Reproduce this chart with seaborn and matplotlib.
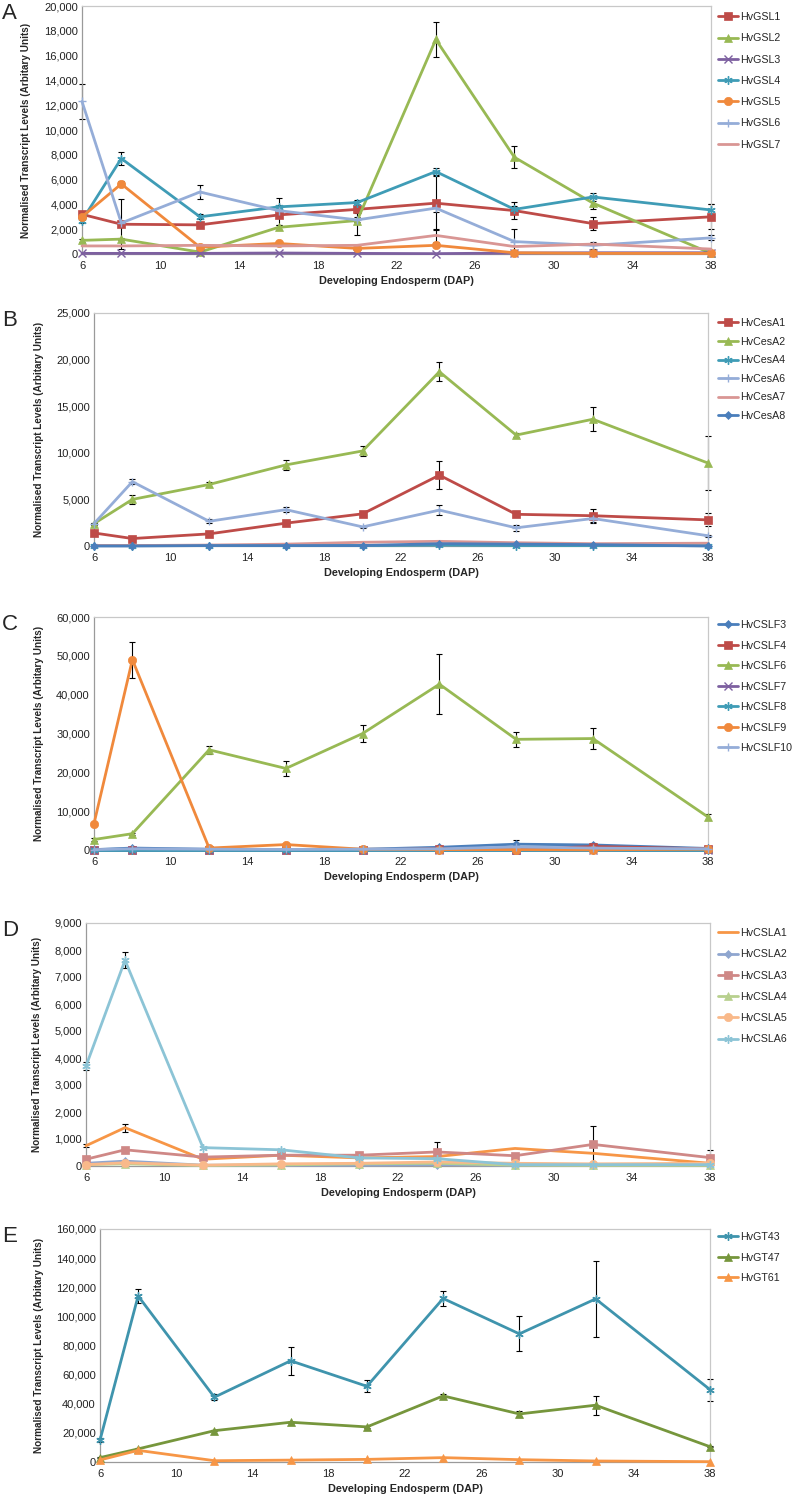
import matplotlib
matplotlib.use("Agg")
import matplotlib.pyplot as plt
import seaborn as sns
from matplotlib.ticker import FuncFormatter

# Data
days = [6, 8, 12, 16, 20, 24, 28, 32, 38]

# Panel A - GSL
gsl_names = ["HvGSL1", "HvGSL2", "HvGSL3", "HvGSL4", "HvGSL5", "HvGSL6", "HvGSL7"]
gsl_vals = [
    [3200, 2400, 2350, 3150, 3600, 4100, 3500, 2450, 3000],
    [1100, 1200, 150, 2150, 2700, 17300, 7800, 4100, 50],
    [50, 50, 50, 80, 50, 30, 80, 100, 100],
    [2700, 7700, 3000, 3800, 4150, 6650, 3600, 4600, 3550],
    [3000, 5650, 550, 850, 450, 700, 100, 50, 50],
    [12300, 2500, 5000, 3500, 2750, 3700, 1000, 700, 1300],
    [650, 650, 700, 650, 700, 1500, 600, 800, 400],
]
gsl_err = [
    [200, 2000, 200, 800, 300, 2200, 700, 500, 1000],
    [100, 100, 100, 200, 1200, 1400, 900, 500, 0],
    [0, 0, 0, 0, 0, 0, 0, 0, 0],
    [200, 500, 200, 700, 200, 300, 300, 300, 500],
    [100, 200, 100, 100, 100, 100, 0, 0, 0],
    [1400, 200, 600, 300, 200, 300, 1000, 300, 200],
    [0, 0, 0, 0, 0, 500, 0, 0, 0],
]

# Panel B - CesA
cesa_names = ["HvCesA1", "HvCesA2", "HvCesA4", "HvCesA6", "HvCesA7", "HvCesA8"]
cesa_vals = [
    [1400, 800, 1300, 2450, 3450, 7600, 3400, 3250, 2800],
    [2400, 5000, 6600, 8700, 10200, 18700, 11900, 13600, 8900],
    [50, 50, 50, 50, 50, 100, 50, 50, 50],
    [2400, 6900, 2650, 3900, 2050, 3850, 1950, 2950, 1100],
    [50, 50, 100, 200, 400, 500, 350, 250, 300],
    [0, 0, 50, 50, 50, 250, 200, 150, 0],
]
cesa_err = [
    [100, 100, 100, 200, 200, 1500, 200, 700, 700],
    [100, 500, 300, 500, 500, 1000, 200, 1300, 2900],
    [0, 0, 0, 0, 0, 0, 0, 0, 0],
    [100, 300, 200, 300, 100, 500, 300, 500, 100],
    [0, 0, 0, 0, 0, 0, 0, 0, 0],
    [0, 0, 0, 0, 0, 300, 0, 0, 0],
]

# Panel C - CSLF
cslf_names = ["HvCSLF3", "HvCSLF4", "HvCSLF6", "HvCSLF7", "HvCSLF8", "HvCSLF9", "HvCSLF10"]
cslf_vals = [
    [100, 500, 200, 100, 200, 700, 1500, 1300, 400],
    [50, 50, 50, 50, 50, 300, 100, 900, 300],
    [2700, 4200, 25800, 21000, 30000, 42700, 28500, 28700, 8500],
    [30, 30, 30, 30, 30, 30, 30, 30, 30],
    [50, 50, 50, 50, 50, 50, 50, 50, 50],
    [6800, 49000, 500, 1400, 200, 100, 100, 50, 200],
    [100, 300, 200, 150, 200, 300, 800, 500, 300],
]
cslf_err = [
    [0, 200, 0, 0, 0, 300, 1000, 500, 0],
    [0, 0, 0, 0, 0, 0, 0, 0, 0],
    [300, 300, 1000, 2000, 2300, 7700, 2000, 2700, 700],
    [0, 0, 0, 0, 0, 0, 0, 0, 0],
    [0, 0, 0, 0, 0, 0, 0, 0, 0],
    [0, 4600, 0, 0, 0, 0, 0, 0, 0],
    [0, 0, 0, 0, 0, 0, 0, 0, 0],
]

# Panel D - CSLA
csla_names = ["HvCSLA1", "HvCSLA2", "HvCSLA3", "HvCSLA4", "HvCSLA5", "HvCSLA6"]
csla_vals = [
    [750, 1420, 250, 400, 300, 350, 650, 470, 100],
    [100, 180, 30, 30, 30, 50, 30, 30, 30],
    [250, 600, 330, 400, 400, 520, 380, 800, 310],
    [50, 80, 20, 40, 80, 100, 30, 20, 20],
    [50, 120, 30, 80, 100, 150, 100, 80, 100],
    [3700, 7620, 680, 600, 300, 270, 50, 50, 50],
]
csla_err = [
    [50, 150, 0, 0, 0, 0, 0, 0, 0],
    [0, 0, 0, 0, 0, 0, 0, 0, 0],
    [0, 0, 0, 0, 0, 360, 0, 680, 300],
    [0, 0, 0, 0, 0, 0, 0, 0, 0],
    [0, 0, 0, 0, 0, 0, 0, 0, 0],
    [150, 300, 0, 0, 0, 0, 0, 0, 0],
]

# Panel E - GT
gt_names = ["HvGT43", "HvGT47", "HvGT61"]
gt_vals = [
    [15000, 114000, 44500, 69500, 52000, 112300, 88000, 112000, 49700],
    [3000, 9000, 21500, 27300, 24100, 45400, 33000, 39000, 10500],
    [1400, 8000, 900, 1300, 1800, 3000, 1600, 700, 230],
]
gt_err = [
    [1500, 5000, 2000, 9500, 4000, 5000, 12000, 26000, 7500],
    [500, 500, 500, 500, 500, 1000, 2000, 6500, 500],
    [0, 0, 0, 0, 0, 0, 0, 0, 0],
]

STAR = (6, 2, 0)

panels = [
    dict(letter="A", names=gsl_names, vals=gsl_vals, err=gsl_err, ymax=20000, step=2000,
         colors=["#BE4B48", "#98B954", "#7D60A0", "#3F9CB6", "#F0893C", "#95ADD8", "#D99694"],
         markers=["s", "^", "x", STAR, "o", "+", None],
         box=(82, 711, 6, 254), ylab_x=31, legend_y=10, spacing=1.05),
    dict(letter="B", names=cesa_names, vals=cesa_vals, err=cesa_err, ymax=25000, step=5000,
         colors=["#BE4B48", "#98B954", "#3F9CB6", "#95ADD8", "#D99694", "#4A7EBB"],
         markers=["s", "^", STAR, "+", None, "D"],
         box=(94, 708, 313, 546), ylab_x=44, legend_y=316, spacing=0.8),
    dict(letter="C", names=cslf_names, vals=cslf_vals, err=cslf_err, ymax=60000, step=10000,
         colors=["#4A7EBB", "#BE4B48", "#98B954", "#7D60A0", "#3F9CB6", "#F0893C", "#95ADD8"],
         markers=["D", "s", "^", "x", STAR, "o", "+"],
         box=(94, 708, 617, 850), ylab_x=44, legend_y=618, spacing=0.98),
    dict(letter="D", names=csla_names, vals=csla_vals, err=csla_err, ymax=9000, step=1000,
         colors=["#F79646", "#8FA6CF", "#CF8886", "#B8D08E", "#F9B98A", "#8CC4D6"],
         markers=[None, "D", "s", "^", "o", STAR],
         box=(86, 710, 923, 1166), ylab_x=42, legend_y=926, spacing=1.05),
    dict(letter="E", names=gt_names, vals=gt_vals, err=gt_err, ymax=160000, step=20000,
         colors=["#3F94AD", "#76963C", "#F79646"],
         markers=[STAR, "^", "^"],
         box=(100, 710, 1229, 1462), ylab_x=44, legend_y=1230, spacing=0.98),
]

sns.set_style("white")
plt.rcParams["font.family"] = ["Liberation Sans", "DejaVu Sans"]

W, H = 794, 1498
fig = plt.figure(figsize=(W / 100, H / 100), dpi=100)

for p in panels:
    l, r, t, b = p["box"]
    ax = fig.add_axes([l / W, 1 - b / H, (r - l) / W, (b - t) / H])

    for name, vals, err, col, mk in zip(p["names"], p["vals"], p["err"], p["colors"], p["markers"]):
        sns.lineplot(x=days, y=vals, ax=ax, color=col, marker=mk, markersize=6 if mk != "D" else 4.5,
                     markeredgecolor=col, markeredgewidth=1.0 if mk in ("x", "+", STAR) else 0.5,
                     linewidth=2.0, label=name, clip_on=False, zorder=3)
        xs = [d for d, e in zip(days, err) if e > 0]
        ys = [v for v, e in zip(vals, err) if e > 0]
        es = [e for e in err if e > 0]
        if es:
            ax.errorbar(xs, ys, yerr=es, fmt="none", ecolor="black", elinewidth=0.8,
                        capsize=2.2, capthick=0.8, zorder=2.5, clip_on=False)

    ax.set_xlim(6, 38)
    ax.set_ylim(0, p["ymax"])
    ax.set_xticks(range(6, 39, 4))
    ax.set_yticks(range(0, p["ymax"] + 1, p["step"]))
    ax.yaxis.set_major_formatter(FuncFormatter(lambda v, pos: f"{int(v):,}"))
    ax.tick_params(axis="both", labelsize=8, colors="#222222", length=3, width=0.6,
                   direction="out", pad=2)
    ax.tick_params(axis="y", length=0, pad=3)
    ax.tick_params(axis="x", color="#9A9A9A")
    for side in ["top", "right"]:
        ax.spines[side].set_color("#C8C8C8")
        ax.spines[side].set_linewidth(0.9)
    for side in ["left", "bottom"]:
        ax.spines[side].set_color("#9A9A9A")
        ax.spines[side].set_linewidth(0.9)

    ax.set_xlabel("Developing Endosperm (DAP)", fontsize=7.8, fontweight="bold", labelpad=4)
    ax.set_ylabel("Normalised Transcript Levels (Arbitary Units)", fontsize=7.2, fontweight="bold")
    ax.yaxis.set_label_coords(p["ylab_x"] / W, 1 - (t + b) / 2 / H, transform=fig.transFigure)

    leg = ax.legend(loc="upper left", bbox_to_anchor=(716 / W, 1 - p["legend_y"] / H),
                    bbox_transform=fig.transFigure, frameon=False, fontsize=7.7,
                    handlelength=1.9, handletextpad=0.15, labelspacing=p["spacing"],
                    borderaxespad=0, borderpad=0.2)

    fig.text(2 / W, 1 - (t - 3) / H, p["letter"], fontsize=16, va="top", ha="left")

fig.savefig("out.png", dpi=100)
